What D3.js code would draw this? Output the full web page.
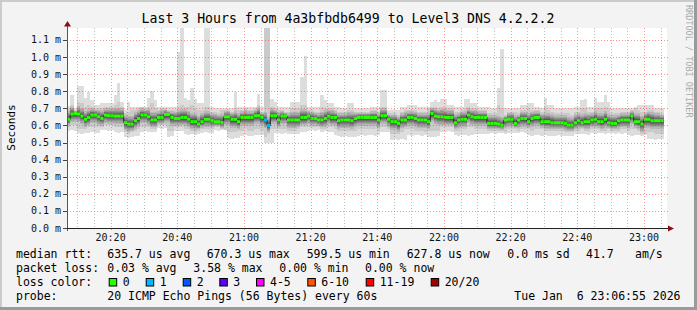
<!DOCTYPE html>
<html><head><meta charset="utf-8">
<script src="https://cdn.jsdelivr.net/npm/d3@7"></script>
<style>
html,body{margin:0;padding:0;background:#f3f3f3;overflow:hidden;}
svg{display:block;}
text{font-family:"DejaVu Sans Mono",monospace;white-space:pre;}
</style></head><body>
<svg id="chart" width="697" height="310"></svg>
<script>
// ---------- DATA ----------
const title = "Last 3 Hours from 4a3bfbdb6499 to Level3 DNS 4.2.2.2";
const yLabel = "Seconds";
const yTicks = [0.0,0.1,0.2,0.3,0.4,0.5,0.6,0.7,0.8,0.9,1.0,1.1];
const yMax = 1.1702;
const startTime = new Date(2026,0,6,20,6,55);
const endTime = new Date(2026,0,6,23,6,55);
const stepMinutes = 1;
// median rtt per minute (ms)
const median = [
.636,.667,.670,.667,.655,.636,.647,.661,.661,.651,
.641,.661,.657,.657,.655,.655,.655,.616,.608,.608,
.628,.641,.661,.661,.651,.632,.632,.647,.647,.664,
.664,.647,.641,.641,.647,.647,.637,.622,.622,.608,
.622,.636,.636,.628,.622,.622,.618,.651,.651,.636,
.636,.622,.647,.647,.647,.647,.657,.657,.647,.632,
.600,.657,.657,.632,.655,.655,.632,.632,.632,.632,
.647,.647,.655,.641,.641,.632,.632,.641,.655,.647,
.647,.628,.632,.632,.632,.628,.641,.647,.647,.647,
.647,.647,.647,.632,.657,.657,.636,.622,.622,.612,
.632,.632,.647,.647,.641,.632,.632,.632,.622,.670,
.655,.651,.651,.647,.647,.647,.616,.632,.636,.636,
.661,.651,.647,.647,.647,.647,.612,.612,.612,.608,
.602,.632,.636,.636,.612,.632,.641,.641,.622,.641,
.647,.647,.622,.622,.622,.616,.616,.616,.616,.612,
.602,.602,.616,.628,.616,.622,.622,.632,.636,.622,
.622,.636,.616,.612,.612,.628,.632,.632,.632,.655,
.622,.622,.608,.636,.636,.628,.628,.628,.628];
// slowest ping per minute
const pingMax = [
.713,.778,.700,.830,.830,.760,.797,.750,.720,.720,
.730,.730,.730,.730,.778,.850,.740,.690,.740,.710,
.710,.710,.710,.710,.760,.803,.750,.710,.710,.710,
.710,.710,.710,1.03,1.17,.760,.750,.820,.755,.730,
.730,1.17,1.17,.710,.700,.700,.700,.700,.700,.700,
.797,.710,.710,.710,.710,.710,.710,.786,.710,1.17,
1.17,.755,.740,.710,.710,.710,.710,.740,.740,.740,
.885,1.006,.710,.710,.710,.710,.780,.750,.730,.730,
.710,.710,.700,.700,.730,.730,.700,.700,.700,.700,
.700,.710,.710,.710,.810,.810,.690,.690,.690,.690,
.710,.710,.720,.720,.720,.710,.710,.710,.710,.740,
.750,.740,.755,.755,.720,.720,.710,.710,.710,.755,
.755,.730,.730,.710,.710,.710,.710,.700,.700,.820,
1.05,.700,.700,.700,.700,.700,.720,.720,.730,.730,
.710,.710,.700,.760,.720,.720,.700,.700,.700,.700,
.700,.700,.710,.710,.750,.754,.710,.710,.762,.740,
.740,.778,.740,.700,.700,.700,.700,.700,.700,.700,
.710,.720,.720,.720,.720,.720,.700,.700,.700];
// second slowest ping per minute
const pingHigh2 = [
.70,.72,.69,.74,.73,.71,.72,.71,.70,.70,
.70,.71,.71,.71,.72,.74,.71,.67,.68,.69,
.69,.70,.71,.70,.71,.73,.70,.69,.70,.70,
.69,.69,.69,.71,.72,.71,.71,.72,.70,.69,
.69,.71,.71,.68,.68,.67,.69,.69,.69,.68,
.70,.69,.69,.70,.69,.69,.70,.72,.68,1.17,
1.17,.71,.70,.69,.69,.68,.68,.70,.70,.70,
.72,.72,.69,.69,.68,.68,.71,.70,.70,.70,
.69,.68,.68,.68,.69,.69,.68,.68,.68,.68,
.68,.69,.69,.68,.71,.71,.67,.67,.67,.66,
.68,.69,.69,.69,.69,.68,.68,.68,.70,.71,
.71,.70,.71,.71,.70,.70,.68,.68,.69,.70,
.71,.70,.70,.69,.69,.69,.67,.67,.67,.72,
.70,.66,.68,.68,.68,.67,.69,.69,.70,.69,
.69,.69,.68,.71,.69,.68,.67,.67,.67,.67,
.67,.66,.68,.68,.70,.70,.68,.68,.70,.70,
.70,.71,.70,.67,.67,.67,.68,.68,.68,.69,
.70,.69,.68,.68,.69,.69,.68,.68,.67];
// second fastest ping per minute
const pingLow2 = [
.59,.60,.60,.58,.58,.58,.59,.59,.59,.59,
.59,.60,.60,.60,.59,.59,.59,.56,.55,.56,
.57,.58,.59,.59,.59,.58,.58,.60,.60,.60,
.57,.57,.59,.59,.59,.58,.58,.57,.56,.57,
.58,.58,.58,.58,.59,.59,.58,.57,.56,.56,
.56,.57,.57,.58,.57,.57,.58,.58,.57,.53,
.55,.58,.58,.58,.58,.58,.57,.57,.57,.58,
.59,.59,.59,.59,.59,.59,.58,.58,.59,.59,
.58,.57,.57,.57,.57,.57,.57,.58,.58,.58,
.58,.58,.58,.57,.59,.59,.58,.55,.55,.55,
.56,.58,.58,.58,.57,.57,.57,.56,.57,.57,
.57,.57,.59,.59,.59,.59,.57,.57,.58,.58,
.59,.59,.58,.58,.58,.58,.57,.57,.57,.57,
.57,.56,.58,.58,.58,.57,.58,.58,.58,.57,
.58,.58,.58,.57,.57,.57,.57,.57,.57,.56,
.56,.56,.57,.57,.58,.57,.57,.58,.58,.58,
.57,.57,.58,.57,.57,.57,.58,.58,.57,.58,
.58,.57,.55,.55,.56,.56,.55,.55,.55];
// fastest ping per minute
const pingMin = [
.569,.572,.566,.554,.550,.556,.557,.560,.553,.557,
.573,.576,.570,.573,.560,.556,.562,.530,.527,.533,
.538,.540,.563,.566,.560,.563,.559,.583,.580,.583,
.534,.536,.569,.566,.570,.550,.546,.550,.545,.552,
.557,.560,.554,.557,.573,.570,.573,.576,.525,.522,
.525,.528,.540,.544,.538,.540,.542,.544,.544,.495,
.495,.497,.554,.556,.552,.554,.550,.548,.552,.550,
.563,.560,.565,.573,.570,.573,.563,.566,.560,.563,
.544,.540,.534,.536,.534,.530,.534,.536,.544,.540,
.544,.546,.540,.544,.563,.560,.563,.515,.518,.515,
.520,.515,.544,.540,.546,.544,.540,.544,.534,.530,
.534,.536,.563,.560,.566,.563,.544,.540,.546,.544,
.540,.544,.550,.548,.552,.550,.550,.554,.550,.556,
.554,.552,.554,.556,.557,.554,.560,.557,.544,.540,
.546,.544,.540,.544,.540,.536,.540,.544,.538,.540,
.536,.540,.550,.548,.552,.550,.546,.554,.550,.556,
.554,.550,.554,.556,.552,.554,.550,.554,.544,.540,
.546,.544,.540,.544,.519,.522,.516,.519,.520];
// minutes with packet loss: [minute index, pings lost of 20]
const lossEvents = [[59,1],[60,1]];
const lossLabels = ["0","1","2","3","4-5","6-10","11-19","20/20"];
const lossColors = ["#26ff00","#00b8ff","#0059ff","#5e00ff","#ff00ff","#ff5500","#ff0000","#a10000"];
const lossUpper = [0,1,2,3,5,10,19,20];
const rttLegend = ["median rtt:","635.7 us avg","670.3 us max","599.5 us min","627.8 us now","0.0 ms sd","41.7","am/s"];
const lossLegend = ["packet loss:","0.03 % avg","3.58 % max","0.00 % min","0.00 % now"];
const colorLegendTitle = "loss color:";
const probeLegend = ["probe:","20 ICMP Echo Pings (56 Bytes) every 60s"];
const dateStamp = "Tue Jan  6 23:06:55 2026";
const watermark = "RRDTOOL / TOBI OETIKER";

// ---------- LAYOUT ----------
const W = 697, H = 310;
const PL = 67, PR = 667, PT = 28, PB = 228;
const svg = d3.select("#chart");
const FONT_AX = 10, FONT_LEG = 11.5;

// frame
svg.append("rect").attr("x",0).attr("y",0).attr("width",W).attr("height",H).attr("fill","#f3f3f3");
svg.append("rect").attr("x",0).attr("y",0).attr("width",W).attr("height",2).attr("fill","#cbcbcb");
svg.append("rect").attr("x",0).attr("y",0).attr("width",2).attr("height",H).attr("fill","#cbcbcb");
svg.append("rect").attr("x",W-3).attr("y",0).attr("width",3).attr("height",H).attr("fill","#9a9a9a");
svg.append("rect").attr("x",0).attr("y",H-3).attr("width",W).attr("height",3).attr("fill","#9a9a9a");

const x = d3.scaleTime().domain([startTime,endTime]).range([PL,PR]);
const y = d3.scaleLinear().domain([0,yMax]).range([PB,PT]);

svg.append("rect").attr("x",PL).attr("y",PT).attr("width",PR-PL).attr("height",PB-PT).attr("fill","#ffffff");
svg.append("defs").append("clipPath").attr("id","clip").append("rect")
  .attr("x",PL).attr("y",PT).attr("width",PR-PL).attr("height",PB-PT);

// build step data
const N = median.length;
const lossAt = new Array(N).fill(0);
lossEvents.forEach(([i,l])=>{lossAt[i]=l;});
const tAt = i => new Date(startTime.getTime() + i*stepMinutes*60000);
const rows = d3.range(N).map(i=>({
  t:tAt(i), m:median[i], hi:pingMax[i], lo:pingMin[i],
  hi2:Math.min(pingHigh2[i],pingMax[i]), lo2:Math.max(pingLow2[i],pingMin[i]), loss:lossAt[i]
}));
const stepData = rows.concat([Object.assign({},rows[N-1],{t:tAt(N)})]);

const plot = svg.append("g").attr("clip-path","url(#clip)");
// smoke: 10 layers (ping i .. ping 21-i), lightest outside; inner layers placed
// at normal-order-statistic fractions of the second-ping envelope
const NL = 10;
const innerFrac = [1,1,0.81,0.66,0.53,0.42,0.32,0.22,0.13,0.045];
for(let k=0;k<NL;k++){
  const g = Math.round(190/NL*(NL-1-k))+50;
  const col = d3.rgb(g,g,g);
  let upper, lower;
  if(k===0){ upper=d=>d.hi; lower=d=>d.lo; }
  else if(k===1){ upper=d=>d.hi2; lower=d=>d.lo2; }
  else {
    const f = innerFrac[k];
    upper = d=>{const top=Math.min(d.hi2,d.m+0.06); return d.m+(top-d.m)*f;};
    lower = d=>{const bot=Math.max(d.lo2,d.m-0.06); return d.m-(d.m-bot)*f;};
  }
  const area = d3.area().curve(d3.curveStepAfter)
    .x(d=>x(d.t)).y0(d=>y(lower(d))).y1(d=>y(upper(d)));
  plot.append("path").datum(stepData).attr("d",area).attr("fill",col).attr("shape-rendering","crispEdges");
}

// grid
const minorTicks = x.ticks(d3.timeMinute.every(5)).filter(t=>t.getMinutes()%20!==0);
const majorTicks = x.ticks(d3.timeMinute.every(20));
const grid = svg.append("g").attr("shape-rendering","crispEdges");
grid.selectAll(".vmin").data(minorTicks).join("line")
  .attr("x1",d=>Math.round(x(d))+0.5).attr("x2",d=>Math.round(x(d))+0.5)
  .attr("y1",PT).attr("y2",PB).attr("stroke","rgba(110,110,110,0.45)")
  .attr("stroke-dasharray","1,2");
grid.selectAll(".vmaj").data(majorTicks).join("line")
  .attr("x1",d=>Math.round(x(d))+0.5).attr("x2",d=>Math.round(x(d))+0.5)
  .attr("y1",PT).attr("y2",PB+3).attr("stroke","rgba(255,60,60,0.55)")
  .attr("stroke-dasharray","1,2");
grid.selectAll(".hmaj").data(yTicks.filter(v=>v>0)).join("line")
  .attr("x1",PL).attr("x2",PR+2).attr("y1",d=>Math.round(y(d))+0.5).attr("y2",d=>Math.round(y(d))+0.5)
  .attr("stroke","rgba(255,60,60,0.55)").attr("stroke-dasharray","1,2");

// median line
const mline = d3.line().curve(d3.curveStepAfter).x(d=>x(d.t)).y(d=>y(d.m));
plot.append("path").datum(stepData).attr("d",mline).attr("fill","none")
  .attr("stroke","#202020").attr("stroke-width",1);
// loss-colored median marks
const bucket = l => lossUpper.findIndex(u=>l<=u);
plot.selectAll(".med").data(rows).join("rect")
  .attr("x",d=>x(d.t)).attr("width",d=>x(new Date(d.t.getTime()+stepMinutes*60000))-x(d.t))
  .attr("y",d=>y(d.m)-1.5).attr("height",3)
  .attr("fill",d=>lossColors[bucket(d.loss)]);

// axes
svg.append("line").attr("x1",PL+0.5).attr("x2",PL+0.5).attr("y1",PB+3).attr("y2",PT-2)
  .attr("stroke","#555");
svg.append("line").attr("x1",PL-4).attr("x2",PR+2).attr("y1",PB+0.5).attr("y2",PB+0.5)
  .attr("stroke","#222");
svg.selectAll(".ytk").data(yTicks).join("line")
  .attr("x1",PL-4).attr("x2",PL).attr("y1",d=>Math.round(y(d))+0.5).attr("y2",d=>Math.round(y(d))+0.5)
  .attr("stroke","#444");
svg.append("path").attr("d",`M${PL-3},${PT-1.5}L${PL+0.5},${PT-7}L${PL+4},${PT-1.5}Z`).attr("fill","#8b1010");
svg.append("path").attr("d",`M${PR+1},${PB-2.5}L${PR+7},${PB+0.5}L${PR+1},${PB+3.5}Z`).attr("fill","#8b1010");

// y labels
const fmtY = d=>d3.format(".1f")(d)+" m";
svg.selectAll(".ylab").data(yTicks).join("text")
  .attr("x",PL-6).attr("y",d=>y(d)+3.5).attr("text-anchor","end")
  .attr("font-size",FONT_AX).attr("fill","#111").text(fmtY);
// x labels
svg.selectAll(".xlab").data(majorTicks).join("text")
  .attr("x",d=>x(d)).attr("y",241).attr("text-anchor","middle")
  .attr("font-size",FONT_AX).attr("fill","#111").text(d3.timeFormat("%H:%M"));

// title
svg.append("text").attr("x",348).attr("y",22.5).attr("text-anchor","middle")
  .attr("font-size",13.2).attr("fill","#000").text(title);
// y axis title
svg.append("text").attr("transform","translate(14.5,127.5) rotate(-90)").attr("text-anchor","middle")
  .attr("font-size",11).attr("fill","#000").text(yLabel);
// watermark
svg.append("text").attr("transform","translate(685.5,5) rotate(90)").attr("text-anchor","start")
  .attr("font-size",8.5).attr("fill","#aaaaaa").text(watermark);

// legend rows
const rowY = [258,272,285.8,299.5];
const rttX = [16,107.3,206.7,306.7,406.7,507.3,586,635];
rttLegend.forEach((s,i)=>svg.append("text").attr("x",rttX[i]).attr("y",rowY[0])
  .attr("font-size",FONT_LEG).attr("fill","#000").text(s));
const lossX = [16,107.3,193.3,279.3,365];
lossLegend.forEach((s,i)=>svg.append("text").attr("x",lossX[i]).attr("y",rowY[1])
  .attr("font-size",FONT_LEG).attr("fill","#000").text(s));
svg.append("text").attr("x",16).attr("y",rowY[2]).attr("font-size",FONT_LEG).attr("fill","#000").text(colorLegendTitle);
const boxX = [108.7,145.7,182.7,219.3,256,307.3,365.7,430.7];
lossLabels.forEach((s,i)=>{
  svg.append("rect").attr("x",boxX[i]+0.5).attr("y",278.5).attr("width",7.5).attr("height",7.5)
    .attr("fill",lossColors[i]).attr("stroke","#000").attr("stroke-width",1);
  svg.append("text").attr("x",boxX[i]+14).attr("y",rowY[2]).attr("font-size",FONT_LEG)
    .attr("fill","#000").text(s);
});
svg.append("text").attr("x",16).attr("y",rowY[3]).attr("font-size",FONT_LEG).attr("fill","#000").text(probeLegend[0]);
svg.append("text").attr("x",107.3).attr("y",rowY[3]).attr("font-size",FONT_LEG).attr("fill","#000").text(probeLegend[1]);
svg.append("text").attr("x",680.5).attr("y",rowY[3]).attr("text-anchor","end").attr("font-size",FONT_LEG).attr("fill","#000").text(dateStamp);
</script>
</body></html>
